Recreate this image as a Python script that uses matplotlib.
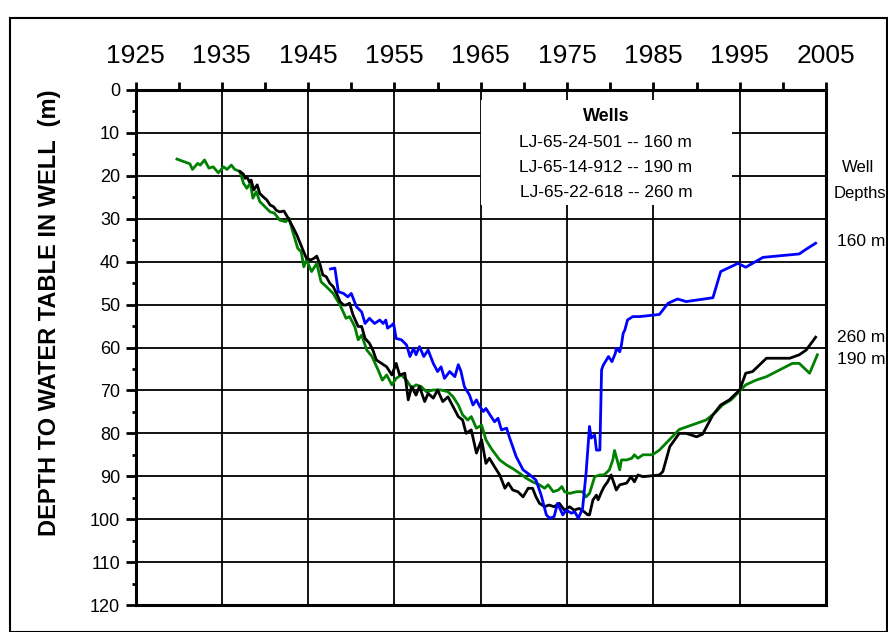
import matplotlib
matplotlib.use("Agg")
import matplotlib.pyplot as plt
from matplotlib.patches import Rectangle
from matplotlib.ticker import MultipleLocator

plt.rcParams['font.family'] = ['Liberation Sans', 'DejaVu Sans']

# well LJ-65-24-501 (160 m)
yr_160 = [1947.6, 1948.1, 1948.5, 1949.1, 1949.6, 1950.0, 1950.6, 1951.2, 1951.6, 1952.1,
          1952.7, 1953.3, 1953.7, 1954.0, 1954.2, 1954.7, 1954.9, 1955.2, 1955.8, 1956.4,
          1956.8, 1957.2, 1957.5, 1957.9, 1958.4, 1958.9, 1959.5, 1960.0, 1960.4, 1960.8,
          1961.4, 1962.0, 1962.4, 1962.7, 1963.1, 1963.7, 1964.1, 1964.5, 1964.9, 1965.3,
          1965.6, 1966.2, 1966.6, 1967.0, 1967.4, 1968.0, 1968.3, 1969.1, 1969.9, 1970.7,
          1971.4, 1972.0, 1972.6, 1973.0, 1973.5, 1973.9, 1974.5, 1974.9, 1975.5, 1975.9,
          1976.3, 1976.8, 1977.2, 1977.6, 1977.8, 1978.2, 1978.4, 1978.8, 1979.0, 1979.2,
          1979.8, 1980.2, 1980.6, 1980.7, 1981.1, 1981.3, 1981.5, 1981.7, 1982.0, 1982.6,
          1983.4, 1985.7, 1986.7, 1987.8, 1988.8, 1991.9, 1992.8, 1994.8, 1995.7, 1997.7,
          2001.9, 2002.7, 2003.8]
dp_160 = [41.7, 41.5, 47.0, 47.4, 48.2, 47.4, 50.5, 51.7, 54.4, 53.2,
          54.4, 53.6, 54.4, 53.6, 55.5, 54.8, 54.4, 57.9, 58.2, 59.4,
          62.1, 60.2, 61.7, 59.8, 62.1, 60.6, 63.7, 65.6, 64.5, 67.2,
          65.6, 66.8, 64.0, 65.5, 69.1, 71.1, 73.4, 72.2, 73.8, 74.9,
          74.2, 76.1, 77.3, 76.5, 79.2, 78.8, 80.8, 85.4, 88.5, 89.7,
          90.9, 94.4, 99.0, 99.8, 99.4, 96.3, 99.0, 97.9, 98.6, 98.3,
          99.8, 97.5, 89.3, 78.4, 81.1, 80.4, 83.9, 83.9, 65.2, 64.1,
          62.1, 63.3, 61.3, 60.2, 61.0, 59.4, 56.7, 55.9, 53.6, 52.8,
          52.8, 52.3, 49.7, 48.7, 49.3, 48.4, 42.3, 40.4, 41.3, 39.0,
          38.2, 37.1, 35.7]

# well LJ-65-14-912 (190 m)
yr_190 = [1929.8, 1931.3, 1931.6, 1932.2, 1932.5, 1933.0, 1933.5, 1934.0, 1934.6, 1935.2,
          1935.6, 1936.1, 1936.5, 1937.1, 1937.5, 1937.9, 1938.3, 1938.6, 1939.0, 1939.4,
          1940.0, 1940.6, 1941.1, 1941.7, 1942.4, 1942.8, 1943.1, 1943.5, 1943.8, 1944.2,
          1944.5, 1944.8, 1945.4, 1946.0, 1946.5, 1947.1, 1947.9, 1948.7, 1949.4, 1949.8,
          1950.4, 1950.8, 1951.2, 1951.8, 1952.4, 1953.1, 1953.6, 1954.1, 1954.7, 1955.2,
          1955.8, 1956.4, 1957.0, 1957.5, 1958.1, 1958.7, 1959.5, 1960.4, 1961.2, 1961.8,
          1962.4, 1962.9, 1963.5, 1963.9, 1964.5, 1965.1, 1965.6, 1966.2, 1966.6, 1967.2,
          1968.0, 1968.7, 1969.5, 1970.3, 1971.0, 1971.8, 1972.4, 1972.8, 1973.4, 1974.0,
          1974.4, 1974.7, 1975.3, 1976.1, 1976.8, 1977.2, 1977.6, 1978.2, 1978.8, 1979.3,
          1979.9, 1980.3, 1980.5, 1980.8, 1981.1, 1981.3, 1981.9, 1982.5, 1982.8, 1983.2,
          1983.8, 1984.9, 1985.7, 1988.0, 1991.1, 1992.1, 1993.0, 1994.0, 1995.7, 1996.9,
          1998.1, 2001.1, 2001.9, 2003.1, 2004.0]
dp_190 = [16.1, 17.2, 18.5, 17.1, 17.5, 16.3, 18.2, 17.9, 19.3, 17.9,
          18.5, 17.5, 18.5, 19.0, 21.7, 22.9, 21.7, 25.2, 23.7, 26.0,
          27.2, 28.4, 28.7, 30.3, 30.7, 29.9, 32.2, 34.9, 36.9, 37.7,
          41.2, 39.6, 42.3, 40.4, 44.7, 45.8, 47.4, 50.1, 53.2, 52.8,
          55.1, 58.2, 57.1, 60.6, 62.1, 65.2, 67.6, 66.4, 68.7, 67.2,
          66.4, 67.6, 69.5, 68.7, 69.1, 70.3, 69.9, 69.9, 70.3, 71.5,
          73.4, 75.7, 76.9, 76.1, 78.8, 78.1, 81.5, 83.5, 84.6, 86.2,
          87.4, 88.2, 89.3, 90.5, 91.3, 92.0, 92.8, 92.0, 93.6, 93.2,
          92.4, 93.6, 94.0, 93.6, 93.6, 94.8, 94.0, 90.1, 89.7, 89.7,
          88.5, 86.2, 84.0, 86.2, 88.5, 86.2, 86.2, 85.8, 85.0, 85.8,
          85.0, 85.0, 83.9, 79.1, 76.9, 75.3, 73.4, 72.2, 68.7, 67.6,
          66.8, 63.7, 63.7, 66.0, 61.7]

# well LJ-65-22-618 (260 m)
yr_260 = [1937.1, 1937.5, 1937.7, 1937.9, 1938.2, 1938.4, 1938.7, 1939.1, 1939.4, 1939.8,
          1940.2, 1940.6, 1941.0, 1941.3, 1941.7, 1942.2, 1942.7, 1943.3, 1943.7, 1944.0,
          1944.4, 1944.8, 1945.3, 1945.7, 1946.0, 1946.4, 1946.7, 1947.1, 1947.5, 1947.9,
          1948.3, 1948.7, 1949.1, 1949.4, 1949.8, 1950.2, 1950.8, 1951.2, 1951.6, 1952.1,
          1952.5, 1952.9, 1953.5, 1954.1, 1954.7, 1955.2, 1955.6, 1956.2, 1956.6, 1957.0,
          1957.5, 1957.9, 1958.5, 1958.9, 1959.5, 1960.0, 1960.6, 1961.2, 1961.8, 1962.4,
          1962.9, 1963.3, 1963.9, 1964.5, 1965.1, 1965.6, 1966.0, 1966.6, 1967.2, 1967.8,
          1968.2, 1968.7, 1969.3, 1969.9, 1970.5, 1971.0, 1971.4, 1971.8, 1972.4, 1972.9,
          1973.5, 1974.1, 1974.7, 1975.3, 1975.8, 1976.4, 1977.0, 1977.4, 1977.6, 1978.0,
          1978.4, 1978.6, 1979.0, 1979.3, 1979.7, 1980.1, 1980.5, 1980.7, 1981.1, 1981.9,
          1982.4, 1982.8, 1983.2, 1983.8, 1985.7, 1986.1, 1986.9, 1988.0, 1988.8, 1990.0,
          1990.7, 1991.9, 1992.8, 1993.8, 1995.0, 1995.7, 1996.5, 1998.1, 2000.8, 2001.9,
          2002.7, 2003.8]
dp_260 = [19.0, 19.6, 20.6, 20.2, 21.4, 21.0, 23.3, 22.1, 24.1, 24.9,
          25.6, 26.8, 27.2, 28.0, 28.4, 28.2, 29.9, 32.2, 33.8, 35.3,
          37.3, 39.2, 39.6, 39.2, 38.7, 40.8, 43.1, 43.5, 45.0, 45.8,
          47.4, 49.3, 50.1, 50.1, 49.7, 52.4, 55.1, 55.1, 57.9, 59.0,
          60.6, 62.9, 63.7, 64.5, 66.4, 63.7, 66.4, 66.0, 72.2, 69.1,
          71.1, 69.1, 72.6, 70.7, 71.8, 69.9, 72.6, 71.5, 73.8, 76.1,
          76.9, 80.0, 79.2, 84.6, 81.5, 87.0, 85.8, 87.8, 89.7, 92.8,
          91.6, 93.2, 93.6, 94.8, 92.8, 92.8, 94.8, 96.3, 97.1, 96.7,
          97.1, 96.3, 97.9, 97.1, 97.9, 97.5, 98.3, 99.0, 99.0, 95.5,
          94.4, 95.5, 93.6, 92.4, 91.3, 89.7, 92.0, 93.2, 92.0, 91.6,
          90.1, 91.3, 89.7, 90.1, 89.7, 88.9, 83.1, 80.0, 80.0, 80.8,
          80.2, 75.7, 73.4, 72.2, 69.9, 66.0, 65.6, 62.5, 62.5, 61.7,
          60.6, 57.6]

year_ticks = [1925, 1935, 1945, 1955, 1965, 1975, 1985, 1995, 2005]
year_minor = [1930, 1940, 1950, 1960, 1970, 1980, 1990, 2000]
wells_title = "Wells"
well_names = ["LJ-65-24-501 -- 160 m", "LJ-65-14-912 -- 190 m", "LJ-65-22-618 -- 260 m"]
depth_tags = ["160 m", "260 m", "190 m"]

fig = plt.figure(figsize=(8.88, 6.32), dpi=100)
ax = fig.add_axes([135.5 / 888, 1 - 605 / 632, (826 - 135.5) / 888, (605 - 90) / 632])

ax.set_xlim(1925, 2005)
ax.set_ylim(120, 0)

# ticks: years on top, depth on the left
ax.xaxis.tick_top()
ax.set_xticks(year_ticks)
ax.set_xticks(year_minor, minor=True)
ax.yaxis.set_major_locator(MultipleLocator(10))
ax.yaxis.set_minor_locator(MultipleLocator(5))
ax.tick_params(axis='x', which='major', direction='out', length=6, width=2,
               labelsize=19, pad=10)
ax.tick_params(axis='x', which='minor', direction='out', length=6, width=2)
ax.tick_params(axis='y', which='major', direction='out', length=7, width=2,
               labelsize=13, pad=4)
ax.tick_params(axis='y', which='minor', direction='out', length=3, width=2)
for s in ax.spines.values():
    s.set_linewidth(2.2)

ax.set_axisbelow(True)
ax.grid(True, which='major', color='black', linewidth=1.3)

# white box behind the well list
ax.add_patch(Rectangle((1965.0, 2.3), 29.1, 24.5, facecolor='white',
                       edgecolor='none', zorder=1))
ax.text(1979.6, 6.1, wells_title, ha='center', va='center', fontsize=13,
        fontweight='bold', zorder=5)
for i, name in enumerate(well_names):
    ax.text(1979.5, 12.3 + i * 5.8, name, ha='center', va='center',
            fontsize=12.5, zorder=5)

ax.plot(yr_190, dp_190, color='#008000', lw=2.0, zorder=3)
ax.plot(yr_260, dp_260, color='black', lw=2.0, zorder=3)
ax.plot(yr_160, dp_160, color='#0000FF', lw=2.0, zorder=4)

fig.text(50 / 888, 1 - 313 / 632, "DEPTH TO WATER TABLE IN WELL  (m)",
         rotation=90, ha='center', va='center', fontsize=17, fontweight='bold')

fig.text(858 / 888, 1 - 167 / 632, "Well", ha='center', va='center', fontsize=12)
fig.text(860 / 888, 1 - 193 / 632, "Depths", ha='center', va='center', fontsize=12)
tag_y = [241, 337, 359]
for tag, py in zip(depth_tags, tag_y):
    fig.text(837 / 888, 1 - py / 632, tag, ha='left', va='center', fontsize=12.5)

# frame around the whole figure
fig.add_artist(Rectangle((10 / 888, 0.0), 0.999 - 10 / 888, 1 - 18 / 632,
                         transform=fig.transFigure, fill=False,
                         edgecolor='black', linewidth=1.5))

fig.savefig("out.png", dpi=100)
